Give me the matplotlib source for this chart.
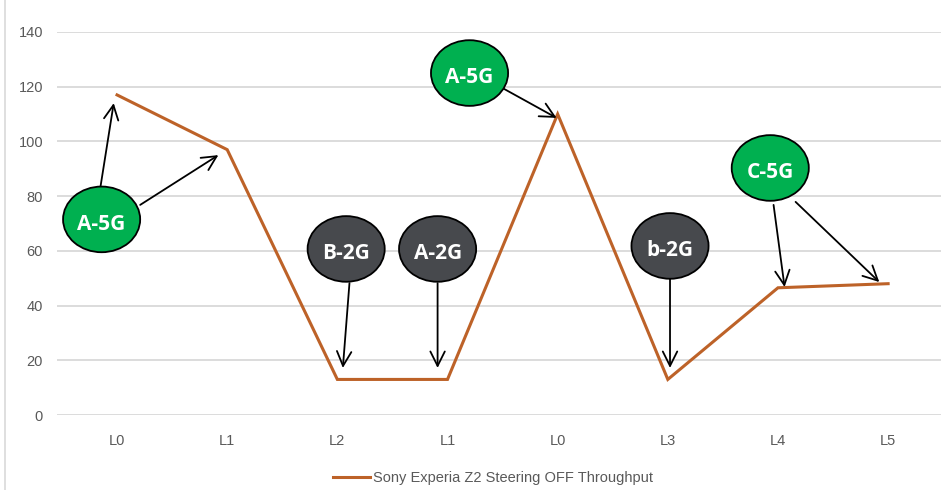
import matplotlib.pyplot as plt
from matplotlib.patches import Ellipse
from matplotlib.lines import Line2D

# throughput per step of the roaming test
steps = ['L0', 'L1', 'L2', 'L1', 'L0', 'L3', 'L4', 'L5']
throughput = [117, 97, 13, 13, 110, 13, 46.5, 48]
series_name = 'Sony Experia Z2 Steering OFF Throughput'

# access point bubbles: label, centre (x, y in data units), colour
bubbles = [
    ('A-5G', -0.14, 71.5, '#00B050'),
    ('A-5G', 3.20, 125.0, '#00B050'),
    ('B-2G', 2.08, 60.7, '#47494D'),
    ('A-2G', 2.91, 60.7, '#47494D'),
    ('b-2G', 5.02, 61.8, '#47494D'),
    ('C-5G', 5.93, 90.3, '#00B050'),
]
# arrows: tail (x, y) -> head (x, y)
arrows = [
    ((-0.15, 83.5), (-0.03, 114.0)),
    ((0.21, 76.8), (0.92, 95.0)),
    ((3.50, 119.5), (3.99, 108.6)),
    ((2.11, 48.2), (2.05, 17.2)),
    ((2.91, 48.2), (2.91, 17.2)),
    ((5.02, 50.1), (5.02, 17.2)),
    ((5.96, 76.8), (6.06, 46.8)),
    ((6.16, 77.9), (6.92, 48.6)),
]

plt.rcParams['font.family'] = ['Liberation Sans Narrow', 'Liberation Sans', 'DejaVu Sans']

fig = plt.figure(figsize=(9.41, 4.90), dpi=100)
ax = fig.add_axes([57 / 941, 75 / 490, 884 / 941, 383 / 490])

x = list(range(len(steps)))
line, = ax.plot(x, throughput, color='#BD6228', lw=2.2, solid_joinstyle='miter',
                label=series_name, zorder=3)

ax.set_xlim(-0.545, 7.48)
ax.set_ylim(0, 140)
ax.set_yticks(range(0, 141, 20))
ax.set_xticks(x)
ax.set_xticklabels(steps)
ax.grid(axis='y', color='#D9D9D9', lw=1.3)
ax.set_axisbelow(True)
for s in ax.spines.values():
    s.set_visible(False)
ax.tick_params(length=0, labelsize=10.5, colors='#595959', pad=14)
ax.tick_params(axis='y', pad=10)

# bubbles with white bold labels
ew, eh = 0.70, 24.0
for txt, bx, by, col in bubbles:
    ax.add_patch(Ellipse((bx, by), ew, eh, facecolor=col, edgecolor='black',
                         lw=1.3, zorder=5, clip_on=False))
    ax.text(bx, by - 0.8, txt, ha='center', va='center_baseline', color='white',
            fontsize=15, fontweight='bold', family=['Open Sans', 'DejaVu Sans'],
            zorder=6)

for tail, head in arrows:
    ax.annotate('', xy=head, xytext=tail,
                arrowprops=dict(arrowstyle='->', color='black', lw=1.3,
                                mutation_scale=26, shrinkA=0, shrinkB=0),
                zorder=4)

fig.legend(handles=[line], loc='center', bbox_to_anchor=(493 / 941, 12 / 490),
           frameon=False, fontsize=10.5, handlelength=2.5, handletextpad=0.2,
           labelcolor='#595959')

# chart area border on the left
fig.add_artist(Line2D([5 / 941, 5 / 941], [0, 1], color='#D9D9D9', lw=1.2))

fig.savefig('out.png', dpi=100)
